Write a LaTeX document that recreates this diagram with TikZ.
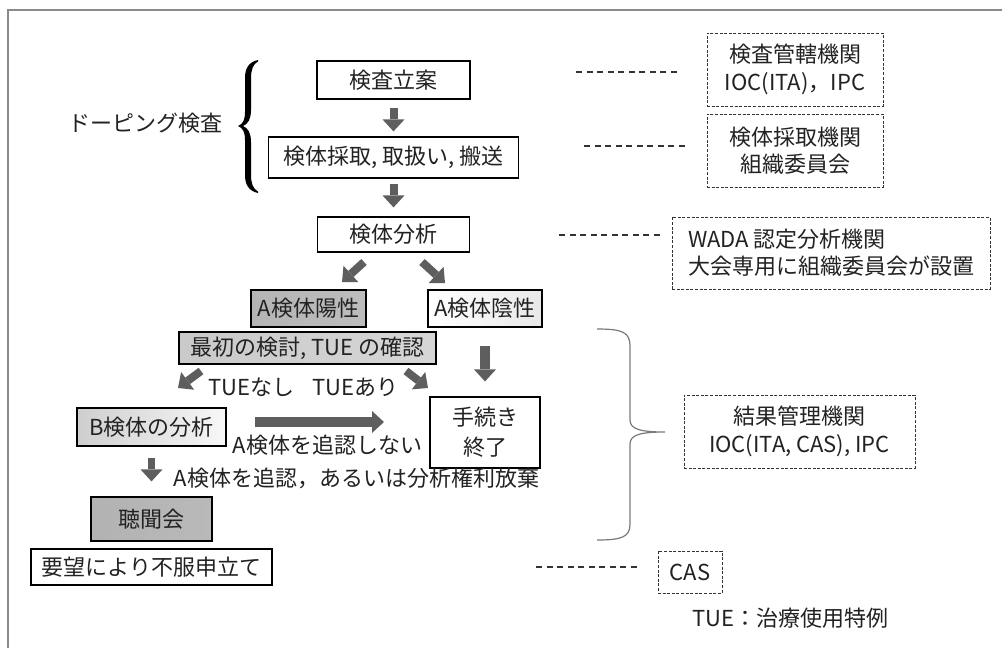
\documentclass[tikz,border=0pt]{standalone}
\usepackage{fontspec}
\setmainfont{Noto Sans CJK JP}
\usetikzlibrary{arrows.meta,calc}
\definecolor{txt}{HTML}{222222}
\definecolor{arrowgray}{HTML}{5E5E5E}
\definecolor{framegray}{HTML}{8A8A8A}
\definecolor{dashgray}{HTML}{333333}
\definecolor{bracegray}{HTML}{7A7A7A}
\begin{document}
\begin{tikzpicture}[x=1pt,y=-1pt,
  every node/.style={font=\fontsize{22}{30}\selectfont, text=txt, inner sep=0pt, align=center},
  box/.style={draw=black, line width=1.2pt, rectangle},
  dbox/.style={draw=dashgray, line width=1pt, dash pattern=on 3pt off 1.6pt, rectangle},
  dline/.style={draw=dashgray, line width=1.3pt, dash pattern=on 6pt off 4.5pt},
  blk/.style={draw=arrowgray, line width=#1, -{Triangle[width=22pt,length=12pt,line width=0pt]}},
  blk/.default=8pt]
\useasboundingbox (0,0) rectangle (1002,648);
\fill[white] (0,0) rectangle (1002,648);
% outer frame (open at right and bottom)
\draw[framegray, line width=2.5pt] (8,648) -- (8,10) -- (1002,10);

% main flow boxes
\node[box, minimum width=153pt, minimum height=38pt] (plan) at (393.5,80) {検査立案};
\node[box, minimum width=250pt, minimum height=41pt] (collect) at (393.5,157.5) {検体採取, 取扱い, 搬送};
\node[box, minimum width=152pt, minimum height=35pt] (analysis) at (393.5,234.5) {検体分析};
\node[box, minimum width=115pt, minimum height=37pt, left color=gray!58, middle color=gray!24, right color=gray!52] (pos) at (308.5,308.5) {A検体陽性};
\node[box, minimum width=114pt, minimum height=37pt, left color=white, right color=gray!18] (neg) at (485,308.5) {A検体陰性};
\node[box, minimum width=257pt, minimum height=32pt, left color=gray!42, middle color=gray!16, right color=gray!32] (first) at (307.5,348) {最初の検討, TUE の確認};
\node[box, minimum width=110pt, minimum height=71pt] (end) at (485,432.5) {手続き\\終了};
\node[box, minimum width=149pt, minimum height=38pt, left color=gray!38, right color=gray!6] (bana) at (151.5,427) {B検体の分析};
\node[box, minimum width=121pt, minimum height=44pt, left color=gray!60, middle color=gray!18, right color=gray!55] (hearing) at (151.5,519) {聴聞会};
\node[box, minimum width=241pt, minimum height=36pt] (appeal) at (151.5,567) {要望により不服申立て};

% organisation boxes
\node[dbox, minimum width=176pt, minimum height=73pt, font=\fontsize{22}{28}\selectfont] (org1) at (795,69.5) {検査管轄機関\\IOC(ITA)，IPC};
\node[dbox, minimum width=176pt, minimum height=73pt, font=\fontsize{22}{27}\selectfont] (org2) at (795,150.5) {検体採取機関\\組織委員会};
\node[dbox, minimum width=318pt, minimum height=72pt, align=left, font=\fontsize{22}{27}\selectfont] (org3) at (831,253) {WADA 認定分析機関\\大会専用に組織委員会が設置};
\node[dbox, minimum width=231pt, minimum height=73pt, font=\fontsize{22}{28}\selectfont] (org4) at (799.5,431.5) {結果管理機関\\IOC(ITA, CAS), IPC};
\node[dbox, minimum width=64pt, minimum height=42pt] (cas) at (690,572) {CAS};

% free labels
\node (doping) at (145,123) {ドーピング検査};
\node (nashi) at (251,387) {TUEなし};
\node (ari) at (355,387) {TUEあり};
\node (noconf) at (327.5,445) {A検体を追認しない};
\node (conf) at (356.5,478) {A検体を追認，あるいは分析権利放棄};
\node (tue) at (790.5,618) {TUE：治療使用特例};

% dashed leaders
\draw[dline] ([xshift=-30pt,yshift=-2.5pt]org1.west) -- ++(-105,0);
\draw[dline] ([xshift=-22pt,yshift=4.5pt]org2.west) -- ++(-105,0);
\draw[dline] ([xshift=-12pt,yshift=18pt]org3.west) -- ++(-105,0);
\draw[dline] ([xshift=-21pt,yshift=5pt]cas.west) -- ++(-105,0);

% block arrows
\draw[blk, shorten <=8pt, shorten >=5pt] (plan.south) -- (collect.north);
\draw[blk, shorten <=5pt, shorten >=9pt] (collect.south) -- (analysis.north);
\coordinate (la1) at (364,262); \coordinate (la2) at (342,282);
\coordinate (ra1) at (422,262); \coordinate (ra2) at (445,283);
\coordinate (lb1) at (201,371); \coordinate (lb2) at (178,388);
\coordinate (rb1) at (406,371); \coordinate (rb2) at (428,388);
\coordinate (h1) at (255,422);  \coordinate (h2) at (384,422);
\draw[blk] (la1) -- (la2);
\draw[blk] (ra1) -- (ra2);
\draw[blk] (lb1) -- (lb2);
\draw[blk] (rb1) -- (rb2);
\draw[blk=10pt] (h1) -- (h2);
\draw[blk=10pt, shorten <=18pt, shorten >=15pt] (neg.south) -- (end.north);
\draw[blk=7pt, shorten <=11pt, shorten >=15pt] (bana.south) -- (hearing.north);

% left curly brace
\fill[black] (258,60) .. controls (249,62) and (245,68) .. (245,78) -- (245,112)
  .. controls (245,120) and (243,124) .. (238,126)
  .. controls (243,128) and (245,132) .. (245,140) -- (245,175)
  .. controls (245,185) and (249,191) .. (258,193)
  -- (258,191.5) .. controls (253,189) and (251,183) .. (251,175) -- (251,142)
  .. controls (251,133) and (248,128) .. (243,126)
  .. controls (248,124) and (251,119) .. (251,110) -- (251,78)
  .. controls (251,70) and (253,64) .. (258,61.5) -- cycle;

% right brace for result management
\draw[bracegray, line width=1.2pt] (597,329) .. controls (622,329) and (630,332) .. (630,346)
  -- (630,420) .. controls (630,429) and (640,432) .. (665,432)
  .. controls (640,432) and (630,435) .. (630,444)
  -- (630,524) .. controls (630,537) and (622,540) .. (597,540);
\end{tikzpicture}
\end{document}
